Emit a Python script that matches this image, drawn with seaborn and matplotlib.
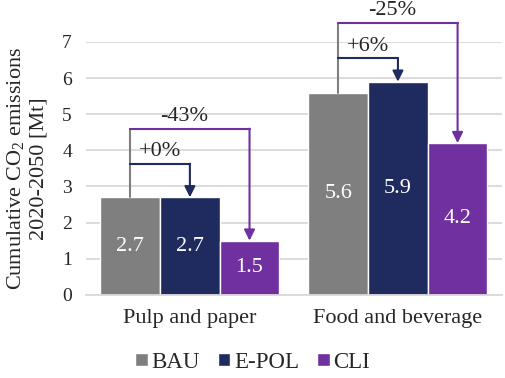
import pandas as pd
import seaborn as sns
import matplotlib.pyplot as plt

# data
sectors = ['Pulp and paper', 'Food and beverage']
scenarios = ['BAU', 'E-POL', 'CLI']
bau = [2.7, 5.6]
epol = [2.7, 5.9]
cli = [1.5, 4.2]
colors = ['#7f7f7f', '#1f2a5e', '#7030a0']

# change labels vs BAU (E-POL, CLI) per sector
chg_epol = ['+0%', '+6%']
chg_cli = ['-43%', '-25%']

df = pd.DataFrame({
    'sector': sectors * 3,
    'scenario': [s for s in scenarios for _ in sectors],
    'value': bau + epol + cli,
})

sns.set_style('white')
plt.rcParams['font.family'] = ['Liberation Serif', 'DejaVu Serif']
plt.rcParams['mathtext.fontset'] = 'custom'
plt.rcParams['mathtext.rm'] = 'Liberation Serif'
plt.rcParams['mathtext.default'] = 'regular'

fig = plt.figure(figsize=(5.05, 3.78), dpi=100)
ax = fig.add_axes([0.170, 0.220, 0.824, 0.669])

sns.barplot(data=df, x='sector', y='value', hue='scenario', hue_order=scenarios,
            palette=colors, width=0.86, saturation=1, ax=ax, errorbar=None)

ax.set_ylim(0, 7)
ax.set_xlim(-0.5, 1.5)
ax.set_yticks(range(0, 8))
ax.grid(axis='y', color='#d9d9d9', linewidth=1.3)
ax.set_axisbelow(True)
for s in ['top', 'right', 'left']:
    ax.spines[s].set_visible(False)
ax.spines['bottom'].set_color('#d9d9d9')
ax.spines['bottom'].set_linewidth(1.3)
ax.tick_params(axis='y', length=0, labelsize=14, pad=10)
ax.tick_params(axis='x', length=0, labelsize=16, pad=10)
ax.set_xlabel('')
ax.set_ylabel('Cumulative CO$_2$ emissions\n2020-2050 [Mt]', fontsize=16,
              linespacing=1.25, labelpad=9.5)

for c in ax.containers:
    ax.bar_label(c, fmt='%.1f', label_type='center', color='white', fontsize=16)

# bracket arrows from BAU to the other scenarios
lvl_epol = [3.63, 6.55]
lvl_cli = [4.6, 7.53]
for i in range(len(sectors)):
    b = ax.containers[0][i]
    x0 = b.get_x() + b.get_width() / 2
    top0 = b.get_height()
    ax.plot([x0, x0], [top0, lvl_cli[i]], color=colors[0], lw=1.5, clip_on=False, zorder=3)
    for k, lvl, lab in [(1, lvl_epol[i], chg_epol[i]), (2, lvl_cli[i], chg_cli[i])]:
        p = ax.containers[k][i]
        x1 = p.get_x() + p.get_width() / 2
        ax.plot([x0, x1], [lvl, lvl], color=colors[k], lw=1.5, clip_on=False, zorder=3)
        ax.annotate('', xy=(x1, p.get_height()), xytext=(x1, lvl),
                    arrowprops=dict(arrowstyle='-|>', color=colors[k], lw=1.5,
                                    mutation_scale=16, shrinkA=0, shrinkB=0),
                    annotation_clip=False, zorder=3)
        ax.text((x0 + x1) / 2 if k == 1 else (x0 + x1) / 2 - 0.03, lvl + 0.07, lab,
                ha='center', va='bottom', fontsize=16, clip_on=False)

ax.legend(loc='lower center', bbox_to_anchor=(0.5, -0.01), bbox_transform=fig.transFigure,
          ncol=3, frameon=False, fontsize=16.5, handlelength=0.55, handleheight=0.55,
          handletextpad=0.15, columnspacing=0.8, borderaxespad=0.0)

plt.savefig('out.png', dpi=100)
